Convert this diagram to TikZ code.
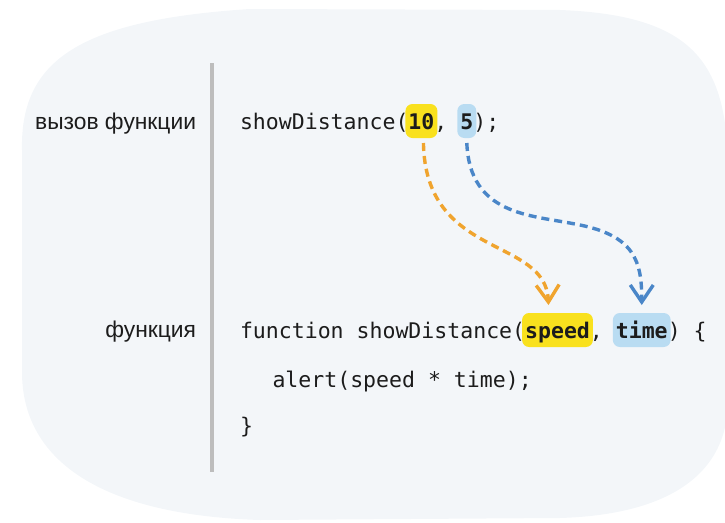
\documentclass[tikz,border=0pt]{standalone}
\usepackage{fontspec}
\setmainfont{Liberation Sans}
\setmonofont{DejaVu Sans Mono}
\usetikzlibrary{arrows.meta,calc}
\definecolor{blobcol}{HTML}{F3F6F9}
\definecolor{hlyellow}{HTML}{F9E11E}
\definecolor{hlblue}{HTML}{B9DCF2}
\definecolor{arrorange}{HTML}{F0A42E}
\definecolor{arrblue}{HTML}{4A86C8}
\definecolor{divcol}{HTML}{BDBDBD}
\definecolor{txt}{HTML}{1C1C1C}
\def\cw{12.96}
\tikzset{
  labeltext/.style={font=\fontsize{22.8}{26}\selectfont, text=txt, inner sep=0pt, outer sep=0pt, anchor=base east},
  codetext/.style={font=\fontsize{21.53}{26}\selectfont\ttfamily, text=txt, inner sep=0pt, outer sep=0pt, anchor=base west},
  hlbox/.style={font=\fontsize{21.53}{26}\selectfont\ttfamily\bfseries, text=txt, inner xsep=3pt, inner ysep=0pt, outer sep=0pt,
    text height=25pt, text depth=9pt, rounded corners=7pt, anchor=base west},
  hly/.style={hlbox, fill=hlyellow},
  hlb/.style={hlbox, fill=hlblue},
  passarrow/.style={line width=3.4pt, dash pattern=on 8pt off 5pt, -{Straight Barb[length=17pt,width=23pt]}},
}
\begin{document}
\begin{tikzpicture}[x=1pt,y=-1pt]
\useasboundingbox (0,0) rectangle (725,522);
% background blob
\fill[blobcol] (22,150) .. controls (20,60) and (80,20) .. (250,9) -- (560,10)
  .. controls (690,15) and (725,60) .. (728,160) -- (728,400)
  .. controls (728,480) and (660,515) .. (560,518) -- (260,520)
  .. controls (100,515) and (22,460) .. (22,372) -- cycle;
% divider
\draw[divcol, line width=3.5pt] (212,63) -- (212,472);
% labels
\node[labeltext] (lcall) at (196,129) {вызов функции};
\node[labeltext] (lfunc) at (196,337) {функция};
% highlights
\node[hly] (n10) at ({240+13*\cw-3},129) {10};
\node[hlb] (n5) at ({240+17*\cw-3},129) {5};
\node[hly] (speed) at ({240+22*\cw-3},338) {speed};
\node[hlb] (time) at ({240+29*\cw-3},338) {time};
% code
\node[codetext] (call) at (240,129) {showDistance(\phantom{10}, \phantom{5});};
\node[codetext] (func) at (240,338) {function showDistance(\phantom{speed}, \phantom{time}) \{};
\node[codetext] (body) at (272.5,387) {alert(speed * time);};
\node[codetext] (close) at (240,433) {\}};
% arrows
\coordinate (oS) at ([xshift=2pt,yshift=-5pt]n10.south);
\coordinate (oE) at ([xshift=-9pt,yshift=8pt]speed.north);
\coordinate (bS) at ([yshift=-5pt]n5.south);
\coordinate (bE) at ([yshift=8pt]time.north);
\coordinate (bM) at (575,224);
\draw[passarrow, arrorange] (oS) .. controls +(2,117) and +(-3,-69) .. (oE);
\draw[passarrow, arrblue] (bS) .. controls +(3,72) and +(-45,-9) .. (bM)
  .. controls +(60,11) and +(0,-44) .. (bE);
\end{tikzpicture}
\end{document}
